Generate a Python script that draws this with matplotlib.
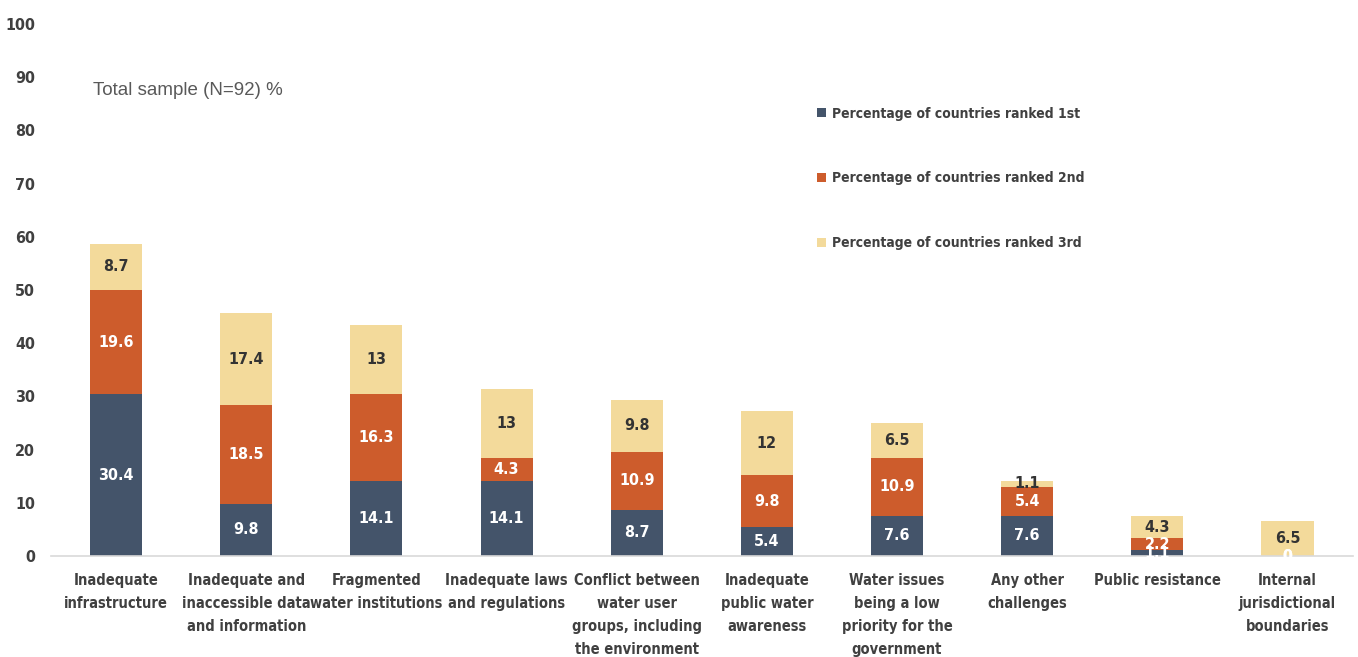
import matplotlib.pyplot as plt
import numpy as np
from matplotlib.patches import Patch
from matplotlib import font_manager

categories = [
    "Inadequate\ninfrastructure",
    "Inadequate and\ninaccessible data\nand information",
    "Fragmented\nwater institutions",
    "Inadequate laws\nand regulations",
    "Conflict between\nwater user\ngroups, including\nthe environment",
    "Inadequate\npublic water\nawareness",
    "Water issues\nbeing a low\npriority for the\ngovernment",
    "Any other\nchallenges",
    "Public resistance",
    "Internal\njurisdictional\nboundaries",
]
ranked_1st = [30.4, 9.8, 14.1, 14.1, 8.7, 5.4, 7.6, 7.6, 1.1, 0]
ranked_2nd = [19.6, 18.5, 16.3, 4.3, 10.9, 9.8, 10.9, 5.4, 2.2, 0]
ranked_3rd = [8.7, 17.4, 13, 13, 9.8, 12, 6.5, 1.1, 4.3, 6.5]
series_names = [
    "Percentage of countries ranked 1st",
    "Percentage of countries ranked 2nd",
    "Percentage of countries ranked 3rd",
]

colors = ["#44546A", "#CD5C2C", "#F3DA9B"]
label_colors = ["white", "white", "#333333"]
txt = "#404040"

# pick a condensed face for the labels if one is around
fonts = font_manager.fontManager.ttflist
have = {f.name for f in fonts}
cond = [f.name for f in fonts if "condensed" in f.stretch.lower() or "narrow" in f.name.lower()]
if "Liberation Sans Narrow" in have:
    narrow = dict(family=["Liberation Sans Narrow", "DejaVu Sans"], stretch="normal")
elif "DejaVu Sans" in cond:
    narrow = dict(family=["DejaVu Sans"], stretch="condensed")
elif cond:
    narrow = dict(family=[cond[0], "DejaVu Sans"], stretch="condensed")
else:
    narrow = dict(family=["Liberation Sans", "DejaVu Sans"], stretch="normal")
fp = lambda size: font_manager.FontProperties(family=narrow["family"], stretch=narrow["stretch"],
                                               weight="bold", size=size)

fig = plt.figure(figsize=(13.58, 6.57), dpi=100)
ax = fig.add_axes([0.0376, 0.1537, 0.9584, 0.8098])

x = np.arange(len(categories))
bottom = np.zeros(len(categories))
for vals, col, lc in zip([ranked_1st, ranked_2nd, ranked_3rd], colors, label_colors):
    vals = np.array(vals, dtype=float)
    ax.bar(x, vals, 0.4, bottom=bottom, color=col, zorder=2)
    for xi, b, v in zip(x, bottom, vals):
        ax.text(xi, b + v / 2, "%g" % v, ha="center", va="center", color=lc,
                fontproperties=fp(11.5), zorder=3)
    bottom += vals

ax.set_xlim(-0.5, len(categories) - 0.5)
ax.set_ylim(0, 100)
ax.set_yticks(range(0, 101, 10))
ax.set_xticks(x)
ax.set_xticklabels(categories, linespacing=1.68)
for lab in ax.get_yticklabels():
    lab.set_fontproperties(fp(11.5))
    lab.set_color(txt)
for lab in ax.get_xticklabels():
    lab.set_fontproperties(fp(10.5))
    lab.set_color(txt)
ax.tick_params(axis="both", length=0)
ax.tick_params(axis="y", pad=11.5)
ax.tick_params(axis="x", pad=12)
for side in ["top", "right", "left"]:
    ax.spines[side].set_visible(False)
ax.spines["bottom"].set_color("#D9D9D9")
ax.spines["bottom"].set_linewidth(1.2)

ax.text(0.032, 0.866, "Total sample (N=92) %", transform=ax.transAxes,
        fontsize=13.5, color="#595959", family=["Liberation Sans", "DejaVu Sans"])

handles = [Patch(facecolor=c) for c in colors]
leg = ax.legend(handles, series_names, loc="upper left",
                bbox_to_anchor=(0.579, 0.868), frameon=False,
                labelspacing=3.65, handlelength=0.65, handleheight=0.65,
                handletextpad=0.4, prop=fp(10))
for t in leg.get_texts():
    t.set_color(txt)

fig.savefig("out.png", dpi=100)
